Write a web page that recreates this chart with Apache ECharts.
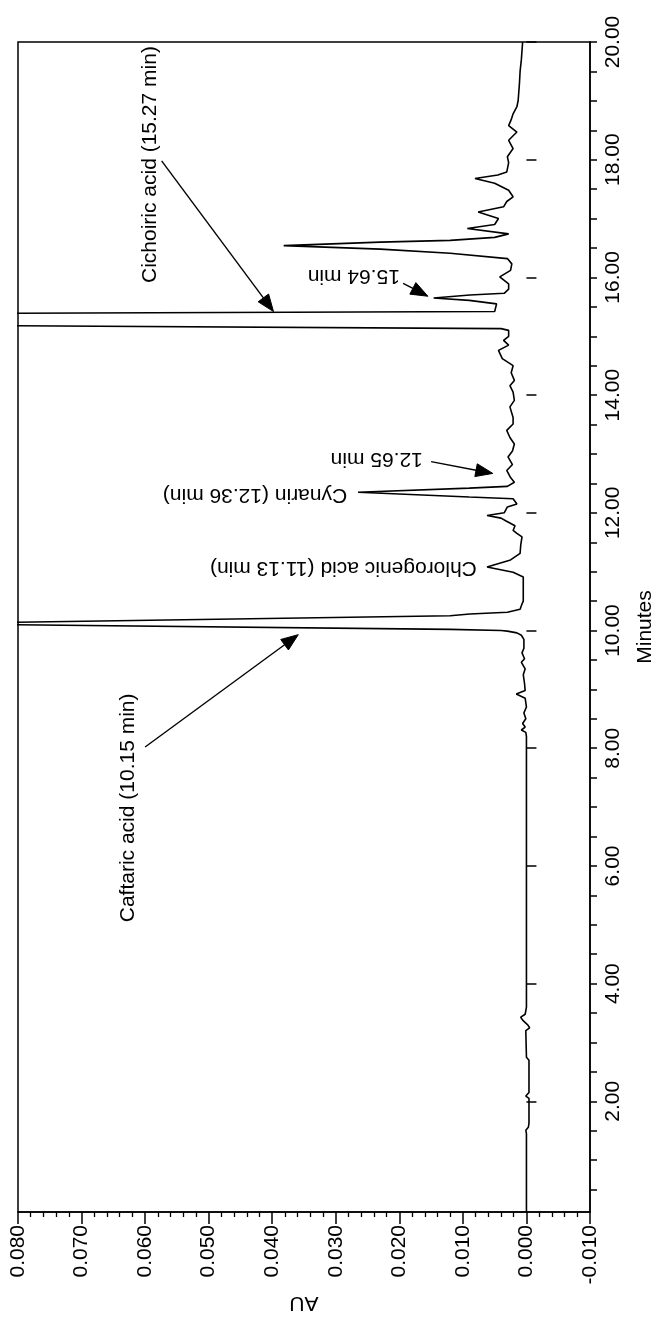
<!DOCTYPE html>
<html>
<head>
<meta charset="utf-8">
<script src="https://cdn.jsdelivr.net/npm/echarts@6/dist/echarts.min.js"></script>
<style>
  html, body { margin: 0; padding: 0; background: #ffffff; }
  #chart { width: 657px; height: 1323px; }
</style>
</head>
<body>
<div id="chart"></div>
<script>
// Retention time (minutes) and absorbance (AU)
const minutes = [
  0.12, 0.80, 1.45, 1.51, 1.56, 1.63, 2.05, 2.09, 2.15, 2.70, 2.75, 3.20, 3.25, 3.30, 3.38, 3.43, 3.48, 3.60,
  5.00, 6.50, 8.20, 8.27, 8.31, 8.36, 8.42, 8.50, 8.60, 8.70, 8.85, 8.92, 8.98, 9.10, 9.25, 9.35, 9.46, 9.52,
  9.62, 9.70, 9.85, 9.92, 9.96, 9.99, 10.00, 10.02, 10.10, 10.12, 10.14, 10.25, 10.28, 10.31, 10.36, 10.45,
  10.50, 10.70, 10.91, 10.99, 11.08, 11.20, 11.31, 11.45, 11.59, 11.65, 11.70, 11.78, 11.86, 11.91, 11.955,
  12.00, 12.10, 12.15, 12.24, 12.27, 12.35, 12.42, 12.45, 12.52, 12.60, 12.72, 12.82, 12.95, 13.05, 13.17,
  13.28, 13.40, 13.51, 13.62, 13.80, 13.91, 14.05, 14.16, 14.25, 14.38, 14.50, 14.62, 14.76, 14.85, 14.93,
  15.00, 15.10, 15.13, 15.18, 15.285, 15.39, 15.42, 15.55, 15.61, 15.65, 15.70, 15.73, 15.80, 15.89, 16.01,
  16.12, 16.23, 16.32, 16.41, 16.48, 16.54, 16.60, 16.63, 16.68, 16.74, 16.83, 16.90, 17.00, 17.11, 17.20,
  17.29, 17.37, 17.48, 17.60, 17.68, 17.74, 17.79, 17.95, 18.05, 18.19, 18.33, 18.47, 18.58, 18.68, 18.78,
  18.90, 19.01, 19.30, 19.50, 19.70, 20.00
];
const absorbance = [
  0.0000, 0.0000, 0.0000, 0.0001, -0.0003, -0.0004, -0.0004, 0.0001, -0.0004, -0.0004, 0.0000, 0.0001, -0.0005, -0.0002, 0.0006, 0.0009, 0.0002, 0.0000,
  0.0000, 0.0000, 0.0000, 0.0001, 0.0008, 0.0002, 0.0006, 0.0001, 0.0004, 0.0000, 0.0002, 0.0016, 0.0002, 0.0003, 0.0005, 0.0002, 0.0008, 0.0003,
  0.0007, 0.0004, 0.0004, 0.0008, 0.0015, 0.0030, 0.0040, 0.0120, 0.0810, 0.1500, 0.0810, 0.0120, 0.0089, 0.0030, 0.0010, 0.0007,
  0.0005, 0.0005, 0.0005, 0.0021, 0.0062, 0.0025, 0.0010, 0.0009, 0.0007, 0.0015, 0.0021, 0.0018, 0.0032, 0.0040, 0.0062,
  0.0035, 0.0030, 0.0015, 0.0021, 0.0090, 0.0265, 0.0090, 0.0030, 0.0019, 0.0025, 0.0031, 0.0022, 0.0029, 0.0022, 0.0019,
  0.0026, 0.0031, 0.0021, 0.0021, 0.0026, 0.0019, 0.0021, 0.0026, 0.0019, 0.0024, 0.0021, 0.0038, 0.0044, 0.0028, 0.0036,
  0.0028, 0.0028, 0.0040, 0.0810, 0.2500, 0.0810, 0.0050, 0.0047, 0.0090, 0.0146, 0.0089, 0.0035, 0.0028, 0.0028, 0.0042,
  0.0025, 0.0023, 0.0030, 0.0120, 0.0230, 0.0382, 0.0230, 0.0120, 0.0050, 0.0028, 0.0093, 0.0050, 0.0044, 0.0076, 0.0036,
  0.0031, 0.0021, 0.0028, 0.0050, 0.0081, 0.0045, 0.0031, 0.0028, 0.0030, 0.0021, 0.0028, 0.0015, 0.0028, 0.0024, 0.0021,
  0.0015, 0.0013, 0.0011, 0.0010, 0.0008, 0.0006
];

// Axis ranges
const auMin = -0.010, auMax = 0.080, auStep = 0.010;
const minuteMin = 0.12, minuteMax = 20.0;
const minuteMajor = [2, 4, 6, 8, 10, 12, 14, 16, 18, 20];
const minuteMinor = [0.5, 1, 1.5, 2, 2.5, 3, 3.5, 4, 4.5, 5, 5.5, 6, 6.5, 7, 7.5, 8, 8.5, 9, 9.5, 10,
  10.5, 11, 11.5, 12, 12.5, 13, 13.5, 14, 14.5, 15, 15.5, 16, 16.5, 17, 17.5, 18, 18.5, 19, 19.5, 20];

// Peak annotations (text, anchor in data coordinates: AU, minutes)
const peakLabels = ['Caftaric acid (10.15 min)', 'Chlorogenic acid (11.13 min)', 'Cynarin (12.36 min)',
  '12.65 min', 'Cichoiric acid (15.27 min)', '15.64 min'];
const labelAU = [0.0626, 0.0078, 0.0282, 0.0163, 0.0592, 0.0199];
const labelMin = [8.93, 11.07, 12.31, 12.91, 19.93, 16.02];
const labelUpright = [true, false, false, false, true, false];

// Arrows (from -> to, data coordinates)
const arrowFromAU = [0.0600, 0.0150, 0.0574, 0.0194];
const arrowFromMin = [8.02, 12.87, 17.98, 15.90];
const arrowToAU = [0.0359, 0.0053, 0.0398, 0.0155];
const arrowToMin = [9.93, 12.67, 15.42, 15.68];

const FONT = '"Liberation Sans", Arial, Helvetica, sans-serif';
const chart = echarts.init(document.getElementById('chart'), null, { renderer: 'canvas' });

const seriesData = minutes.map((m, i) => [absorbance[i], m]);

chart.setOption({
  backgroundColor: '#ffffff',
  animation: false,
  grid: { left: 18, right: 67, top: 42, bottom: 111, show: true, borderColor: '#000', borderWidth: 1.5,
    backgroundColor: 'transparent', containLabel: false, outerBoundsMode: 'none' },
  xAxis: {
    type: 'value', min: auMin, max: auMax, interval: auStep, inverse: true, position: 'bottom',
    name: 'AU', nameLocation: 'middle', nameGap: 80, nameRotate: 180,
    nameTextStyle: { fontFamily: FONT, fontSize: 21, color: '#000' },
    axisLine: { show: true, onZero: false, lineStyle: { color: '#000', width: 1.5 } },
    axisTick: { show: true, inside: false, length: 12, lineStyle: { color: '#000', width: 1.5 } },
    minorTick: { show: true, splitNumber: 5, length: 5, lineStyle: { color: '#000', width: 1.3 } },
    axisLabel: { rotate: 90, margin: 13, fontFamily: FONT, fontSize: 21, color: '#000',
      formatter: v => (Math.abs(v) < 1e-9 ? 0 : v).toFixed(3) },
    splitLine: { show: false }, minorSplitLine: { show: false }
  },
  yAxis: [{
    type: 'value', min: minuteMin, max: minuteMax, position: 'right',
    name: 'Minutes', nameLocation: 'middle', nameGap: 45, nameRotate: 90,
    nameTextStyle: { fontFamily: FONT, fontSize: 21, color: '#000' },
    axisLine: { show: true, onZero: false, lineStyle: { color: '#000', width: 1.5 } },
    axisTick: { show: true, inside: false, length: 7, customValues: minuteMinor, lineStyle: { color: '#000', width: 1.5 } },
    axisLabel: { rotate: 90, margin: 13, fontFamily: FONT, fontSize: 21, color: '#000',
      customValues: minuteMajor, formatter: v => v.toFixed(2) },
    splitLine: { show: false }
  }, {
    type: 'value', min: minuteMin, max: minuteMax, position: 'right',
    axisLine: { show: false },
    axisTick: { show: true, inside: false, length: 10, customValues: minuteMajor, lineStyle: { color: '#000', width: 1.5 } },
    axisLabel: { show: false },
    splitLine: { show: false }
  }],
  series: [{
    type: 'line', data: seriesData, xAxisIndex: 0, yAxisIndex: 0,
    showSymbol: false, symbol: 'none', clip: true, smooth: false,
    lineStyle: { color: '#000', width: 1.6 }
  }]
});

// Annotations positioned through the chart's own coordinate system
const px = (au, m) => chart.convertToPixel({ xAxisIndex: 0, yAxisIndex: 0 }, [au, m]);
const graphics = [];
peakLabels.forEach((txt, i) => {
  const p = px(labelAU[i], labelMin[i]);
  const up = labelUpright[i];
  graphics.push({
    type: 'text', x: p[0], y: p[1], rotation: up ? Math.PI / 2 : Math.PI, silent: true,
    style: { text: txt, font: '21px ' + FONT, fill: '#000',
      align: up ? 'right' : 'left', verticalAlign: 'middle',
      textAlign: up ? 'right' : 'left', textVerticalAlign: 'middle' }
  });
});
arrowFromAU.forEach((_, i) => {
  const a = px(arrowFromAU[i], arrowFromMin[i]);
  const b = px(arrowToAU[i], arrowToMin[i]);
  const dx = b[0] - a[0], dy = b[1] - a[1];
  const len = Math.sqrt(dx * dx + dy * dy);
  const ux = dx / len, uy = dy / len;
  const headL = 17, headW = 6.5;
  const bx = b[0] - ux * headL, by = b[1] - uy * headL;
  graphics.push({
    type: 'line', silent: true,
    shape: { x1: a[0], y1: a[1], x2: bx, y2: by },
    style: { stroke: '#000', lineWidth: 1.4 }
  });
  graphics.push({
    type: 'polygon', silent: true,
    shape: { points: [[b[0], b[1]], [bx - uy * headW, by + ux * headW], [bx + uy * headW, by - ux * headW]] },
    style: { fill: '#000', stroke: '#000', lineWidth: 1 }
  });
});
chart.setOption({ graphic: graphics });
</script>
</body>
</html>
